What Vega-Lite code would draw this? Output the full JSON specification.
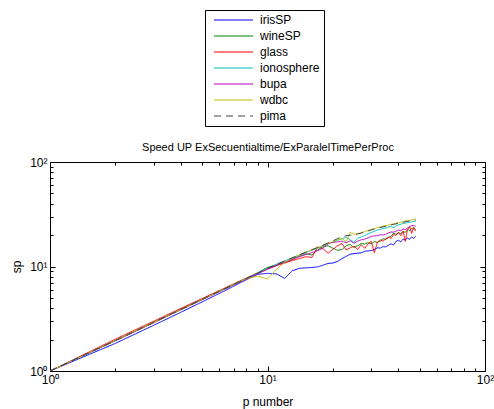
{
  "$schema": "https://vega.github.io/schema/vega-lite/v6.json",
  "width": 435,
  "height": 209,
  "autosize": {"type": "none"},
  "padding": {"left": 50, "top": 162, "right": 9, "bottom": 38},
  "background": "white",
  "config": {"font": "Liberation Sans", "view": {"stroke": "black", "strokeWidth": 1}},
  "data": {"values": [
    {"p":1,"irisSP":1,"wineSP":1,"glass":1,"ionosphere":1,"bupa":1,"wdbc":1,"pima":1},
    {"p":2,"irisSP":1.84,"wineSP":1.96,"glass":2.02,"ionosphere":1.95,"bupa":1.95,"wdbc":1.96,"pima":1.96},
    {"p":3,"irisSP":2.74,"wineSP":2.93,"glass":3.0,"ionosphere":2.91,"bupa":2.9,"wdbc":2.92,"pima":2.92},
    {"p":4,"irisSP":3.65,"wineSP":3.9,"glass":3.98,"ionosphere":3.87,"bupa":3.86,"wdbc":3.88,"pima":3.88},
    {"p":5,"irisSP":4.58,"wineSP":4.86,"glass":4.93,"ionosphere":4.82,"bupa":4.8,"wdbc":4.83,"pima":4.83},
    {"p":6,"irisSP":5.52,"wineSP":5.82,"glass":5.88,"ionosphere":5.77,"bupa":5.75,"wdbc":5.78,"pima":5.78},
    {"p":7,"irisSP":6.5,"wineSP":6.78,"glass":6.82,"ionosphere":6.71,"bupa":6.68,"wdbc":6.72,"pima":6.72},
    {"p":8,"irisSP":7.48,"wineSP":7.72,"glass":7.75,"ionosphere":7.66,"bupa":7.6,"wdbc":7.65,"pima":7.67},
    {"p":9,"irisSP":8.4,"wineSP":8.7,"glass":8.6,"ionosphere":8.6,"bupa":8.5,"wdbc":8.1,"pima":8.6},
    {"p":10,"irisSP":8.6,"wineSP":9.8,"glass":9.5,"ionosphere":9.6,"bupa":9.4,"wdbc":7.6,"pima":9.6},
    {"p":11,"irisSP":8.5,"wineSP":10.4,"glass":10.2,"ionosphere":10.5,"bupa":10.2,"wdbc":9.4,"pima":10.5},
    {"p":12,"irisSP":7.7,"wineSP":10.9,"glass":10.8,"ionosphere":11.3,"bupa":11.0,"wdbc":11.0,"pima":11.3},
    {"p":13,"irisSP":9.1,"wineSP":11.7,"glass":11.4,"ionosphere":12.1,"bupa":11.7,"wdbc":12.0,"pima":12.1},
    {"p":14,"irisSP":9.6,"wineSP":12.6,"glass":11.9,"ionosphere":12.9,"bupa":12.4,"wdbc":12.9,"pima":12.9},
    {"p":15,"irisSP":9.7,"wineSP":13.2,"glass":12.4,"ionosphere":13.6,"bupa":13.0,"wdbc":13.7,"pima":13.7},
    {"p":16,"irisSP":9.8,"wineSP":12.9,"glass":12.2,"ionosphere":14.3,"bupa":13.6,"wdbc":14.4,"pima":14.5},
    {"p":17,"irisSP":9.9,"wineSP":14.4,"glass":15.4,"ionosphere":15.0,"bupa":14.2,"wdbc":15.1,"pima":15.2},
    {"p":18,"irisSP":10.3,"wineSP":15.5,"glass":14.8,"ionosphere":15.8,"bupa":15.0,"wdbc":15.9,"pima":16.0},
    {"p":19,"irisSP":10.7,"wineSP":15.8,"glass":13.4,"ionosphere":16.5,"bupa":16.6,"wdbc":16.7,"pima":16.8},
    {"p":20,"irisSP":10.8,"wineSP":14.9,"glass":14.6,"ionosphere":17.2,"bupa":17.0,"wdbc":17.3,"pima":17.6},
    {"p":21,"irisSP":11.2,"wineSP":14.3,"glass":15.8,"ionosphere":17.8,"bupa":17.2,"wdbc":18.0,"pima":18.5},
    {"p":22,"irisSP":11.9,"wineSP":14.5,"glass":16.6,"ionosphere":18.4,"bupa":17.5,"wdbc":18.6,"pima":19.2},
    {"p":23,"irisSP":12.5,"wineSP":15.9,"glass":14.4,"ionosphere":19.0,"bupa":16.9,"wdbc":17.3,"pima":19.7},
    {"p":24,"irisSP":13.1,"wineSP":16.2,"glass":15.1,"ionosphere":18.0,"bupa":17.6,"wdbc":21.3,"pima":19.9},
    {"p":25,"irisSP":13.3,"wineSP":15.2,"glass":15.6,"ionosphere":17.1,"bupa":16.7,"wdbc":20.4,"pima":20.2},
    {"p":26,"irisSP":13.4,"wineSP":15.8,"glass":14.6,"ionosphere":18.6,"bupa":17.5,"wdbc":20.6,"pima":20.5},
    {"p":27,"irisSP":13.5,"wineSP":16.6,"glass":16.2,"ionosphere":19.2,"bupa":18.0,"wdbc":21.0,"pima":20.9},
    {"p":28,"irisSP":14.0,"wineSP":16.4,"glass":14.9,"ionosphere":19.8,"bupa":18.3,"wdbc":21.6,"pima":21.4},
    {"p":29,"irisSP":14.1,"wineSP":16.9,"glass":16.4,"ionosphere":20.5,"bupa":18.8,"wdbc":22.1,"pima":21.9},
    {"p":30,"irisSP":14.2,"wineSP":16.5,"glass":17.4,"ionosphere":21.2,"bupa":19.4,"wdbc":22.6,"pima":22.4},
    {"p":31,"irisSP":14.5,"wineSP":17.3,"glass":13.6,"ionosphere":21.7,"bupa":19.6,"wdbc":23.0,"pima":22.8},
    {"p":32,"irisSP":15.1,"wineSP":17.0,"glass":17.0,"ionosphere":22.3,"bupa":19.8,"wdbc":23.5,"pima":23.2},
    {"p":33,"irisSP":15.0,"wineSP":17.5,"glass":18.0,"ionosphere":22.6,"bupa":20.1,"wdbc":23.9,"pima":23.6},
    {"p":34,"irisSP":15.5,"wineSP":18.4,"glass":17.5,"ionosphere":23.2,"bupa":20.0,"wdbc":24.3,"pima":24.0},
    {"p":35,"irisSP":15.4,"wineSP":18.2,"glass":18.4,"ionosphere":23.3,"bupa":20.4,"wdbc":24.5,"pima":24.3},
    {"p":36,"irisSP":16.0,"wineSP":19.0,"glass":19.0,"ionosphere":23.9,"bupa":21.0,"wdbc":24.9,"pima":24.7},
    {"p":37,"irisSP":16.5,"wineSP":19.5,"glass":18.6,"ionosphere":24.1,"bupa":21.4,"wdbc":25.4,"pima":25.0},
    {"p":38,"irisSP":16.1,"wineSP":20.8,"glass":20.2,"ionosphere":23.6,"bupa":21.3,"wdbc":25.6,"pima":25.3},
    {"p":39,"irisSP":17.4,"wineSP":20.4,"glass":19.8,"ionosphere":24.4,"bupa":21.8,"wdbc":26.0,"pima":25.6},
    {"p":40,"irisSP":17.8,"wineSP":21.0,"glass":21.2,"ionosphere":25.0,"bupa":22.3,"wdbc":26.3,"pima":25.9},
    {"p":41,"irisSP":17.2,"wineSP":20.7,"glass":19.7,"ionosphere":25.4,"bupa":22.0,"wdbc":26.5,"pima":26.2},
    {"p":42,"irisSP":18.3,"wineSP":21.5,"glass":21.8,"ionosphere":25.8,"bupa":22.8,"wdbc":26.9,"pima":26.5},
    {"p":43,"irisSP":17.9,"wineSP":21.2,"glass":17.4,"ionosphere":26.0,"bupa":22.6,"wdbc":27.2,"pima":26.8},
    {"p":44,"irisSP":18.7,"wineSP":22.7,"glass":22.5,"ionosphere":26.3,"bupa":23.4,"wdbc":27.5,"pima":27.0},
    {"p":45,"irisSP":18.2,"wineSP":22.1,"glass":24.0,"ionosphere":26.5,"bupa":24.0,"wdbc":27.7,"pima":27.3},
    {"p":46,"irisSP":19.2,"wineSP":23.0,"glass":20.8,"ionosphere":26.8,"bupa":24.6,"wdbc":28.0,"pima":27.5},
    {"p":47,"irisSP":18.6,"wineSP":23.5,"glass":23.6,"ionosphere":27.0,"bupa":24.7,"wdbc":28.3,"pima":27.7},
    {"p":48,"irisSP":19.4,"wineSP":22.4,"glass":21.8,"ionosphere":26.9,"bupa":24.3,"wdbc":28.5,"pima":27.8}
  ]},
  "transform": [{"fold": ["irisSP","wineSP","glass","ionosphere","bupa","wdbc","pima"], "as": ["s","sp"]}],
  "layer": [
    {
      "mark": {"type": "line", "strokeWidth": 1, "clip": true},
      "encoding": {
        "x": {"field": "p", "type": "quantitative",
          "scale": {"type": "log", "domain": [1,100], "nice": false},
          "axis": {"orient": "bottom", "values": [1,2,3,4,5,6,7,8,9,10,20,30,40,50,60,70,80,90,100],
            "labelExpr": "datum.value == 1 ? '10⁰' : datum.value == 10 ? '10¹' : datum.value == 100 ? '10²' : ''",
            "tickSize": {"condition": {"test": "datum.value == 1 || datum.value == 10 || datum.value == 100", "value": -5}, "value": -3},
            "tickColor": "black", "domain": false, "grid": false, "labelFlush": false, "labelOverlap": false,
            "labelFontSize": 12, "labelColor": "black", "labelPadding": 8,
            "title": "p number", "titleFontSize": 12, "titleFontWeight": "normal", "titleColor": "black", "titlePadding": 9}},
        "y": {"field": "sp", "type": "quantitative",
          "scale": {"type": "log", "domain": [1,100], "nice": false},
          "axis": {"orient": "left", "values": [1,2,3,4,5,6,7,8,9,10,20,30,40,50,60,70,80,90,100],
            "labelExpr": "datum.value == 1 ? '10⁰' : datum.value == 10 ? '10¹' : datum.value == 100 ? '10²' : ''",
            "tickSize": {"condition": {"test": "datum.value == 1 || datum.value == 10 || datum.value == 100", "value": -5}, "value": -3},
            "tickColor": "black", "domain": false, "grid": false, "labelFlush": false, "labelOverlap": false,
            "labelFontSize": 12, "labelColor": "black", "labelPadding": 8,
            "title": "sp", "titleFontSize": 12, "titleFontWeight": "normal", "titleColor": "black", "titlePadding": 6}},
        "color": {"field": "s", "type": "nominal",
          "scale": {"domain": ["irisSP","wineSP","glass","ionosphere","bupa","wdbc","pima"],
                    "range": ["#0000ff","#008000","#ff0000","#00bfbf","#bf00bf","#bfbf00","#404040"]},
          "legend": {"orient": "none", "legendX": 155, "legendY": -152, "title": null,
            "symbolType": "M-0.2,0H7.6", "symbolSize": 100, "symbolStrokeWidth": 1, "symbolFillColor": "transparent",
            "labelFontSize": 12, "labelColor": "black",
            "strokeColor": "black", "fillColor": "white", "padding": 4, "labelOffset": 39, "rowPadding": 4,
            "encode": {"symbols": {"update": {"strokeDash": [{"test": "datum.value === 'pima'", "value": [7,5]}, {"value": [1,0]}]}}}}},
        "strokeDash": {"field": "s", "type": "nominal",
          "scale": {"domain": ["irisSP","wineSP","glass","ionosphere","bupa","wdbc","pima"],
                    "range": [[1,0],[1,0],[1,0],[1,0],[1,0],[1,0],[7,5]]},
          "legend": null}
      }
    },
    {
      "mark": {"type": "line", "opacity": 0},
      "encoding": {
        "x": {"field": "p", "type": "quantitative",
          "axis": {"orient": "top", "values": [1,2,3,4,5,6,7,8,9,10,20,30,40,50,60,70,80,90,100],
            "labels": false, "domain": false, "grid": false, "tickColor": "black",
            "tickSize": {"condition": {"test": "datum.value == 1 || datum.value == 10 || datum.value == 100", "value": -5}, "value": -3},
            "title": "Speed UP ExSecuentialtime/ExParalelTimePerProc", "titleFontSize": 11, "titleFontWeight": "normal", "titleColor": "black", "titlePadding": 9}},
        "y": {"field": "sp", "type": "quantitative",
          "axis": {"orient": "right", "values": [1,2,3,4,5,6,7,8,9,10,20,30,40,50,60,70,80,90,100],
            "labels": false, "title": null, "domain": false, "grid": false, "tickColor": "black",
            "tickSize": {"condition": {"test": "datum.value == 1 || datum.value == 10 || datum.value == 100", "value": -5}, "value": -3}}}
      }
    }
  ],
  "resolve": {"axis": {"x": "independent", "y": "independent"}}
}
